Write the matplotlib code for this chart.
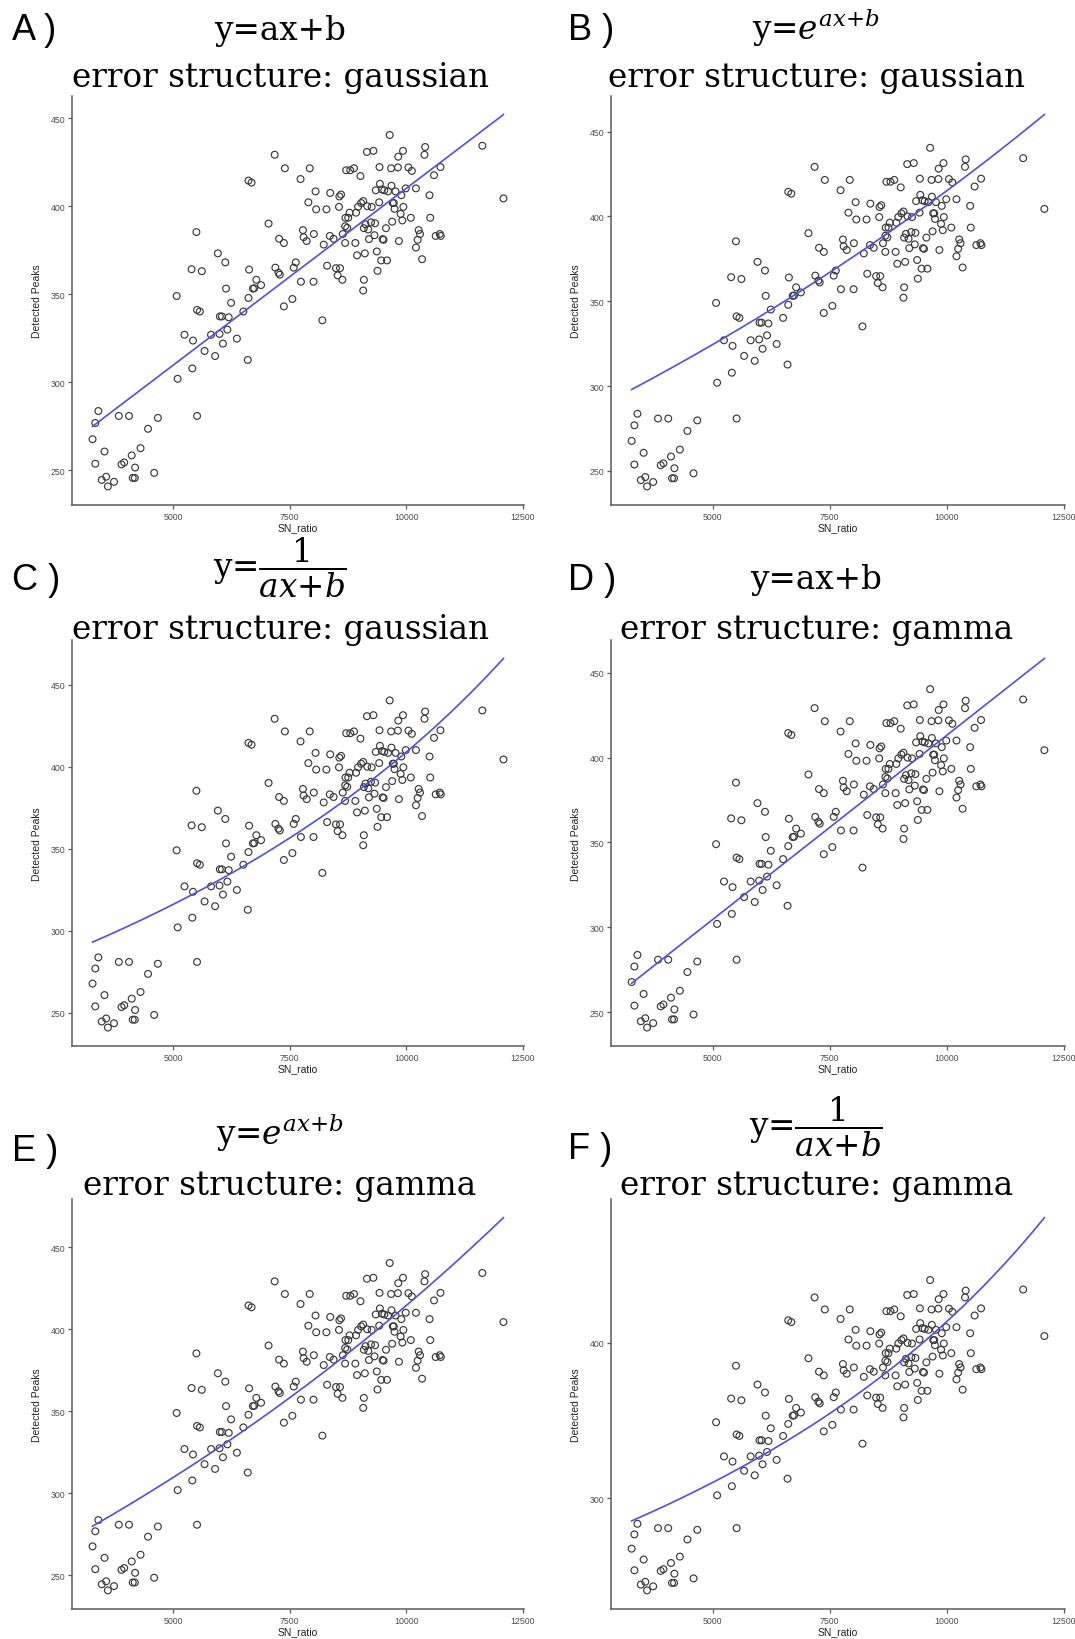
import numpy as np
import matplotlib
matplotlib.use("Agg")
import matplotlib.pyplot as plt

# ---------------- data ----------------
sn_ratio = [3269, 3328, 3393, 3328, 3525, 3466, 3561, 3598, 3729, 3832, 3890, 3948, 4051, 4109, 4182,
            4131, 4175, 4299, 4460, 4591, 4671, 5095, 5073, 5241, 5409, 5424, 5394, 5497, 5511, 5570,
            5511, 5613, 5672, 5811, 5898, 5957, 5993, 6000, 6044, 6066, 6117, 6132, 6161, 6190, 6241,
            6366, 6504, 6599, 6614, 6628, 6614, 6680, 6709, 6738, 6782, 6884, 7045, 7176, 7191, 7257,
            7286, 7271, 7373, 7373, 7395, 7556, 7585, 7629, 7731, 7739, 7782, 7797, 7863, 7899, 7928,
            8009, 8016, 8053, 8067, 8199, 8228, 8286, 8301, 8367, 8359, 8440, 8491, 8527, 8556, 8564,
            8600, 8578, 8629, 8637, 8688, 8688, 8695, 8732, 8754, 8783, 8710, 8797, 8878, 8907, 8922,
            8943, 8965, 9016, 9031, 9075, 9075, 9089, 9089, 9111, 9126, 9155, 9162, 9184, 9199, 9243,
            9257, 9294, 9316, 9330, 9345, 9367, 9382, 9418, 9425, 9433, 9462, 9477, 9491, 9513, 9528,
            9564, 9586, 9608, 9644, 9674, 9681, 9696, 9710, 9732, 9747, 9769, 9827, 9820, 9842, 9878,
            9893, 9929, 9915, 9937, 9988, 10046, 10097, 10119, 10207, 10207, 10243, 10265, 10294, 10338,
            10389, 10404, 10499, 10513, 10594, 10630, 10718, 10732, 10740, 11631, 12084]
detected_peaks = [267.7, 276.9, 283.7, 253.8, 260.7, 244.6, 246.4, 240.9, 243.5, 280.9, 253.4, 254.5,
                  280.9, 258.5, 251.6, 245.7, 245.7, 262.6, 273.6, 248.6, 279.8, 302.0, 349.0, 327.0,
                  307.9, 323.7, 364.2, 385.3, 341.1, 340.2, 280.9, 363.1, 317.8, 327.0, 314.9, 373.2,
                  327.5, 337.4, 337.4, 322.0, 368.1, 353.2, 329.9, 336.9, 345.1, 324.8, 340.2, 312.7,
                  347.9, 364.0, 414.5, 413.4, 353.2, 353.4, 358.2, 355.2, 390.1, 429.2, 365.1, 362.2,
                  361.1, 381.5, 379.1, 343.1, 421.5, 347.3, 365.1, 368.1, 415.4, 357.1, 386.4, 382.4,
                  380.2, 402.2, 421.5, 357.1, 384.2, 408.4, 398.2, 335.2, 378.2, 398.2, 366.2, 407.5,
                  383.1, 381.5, 364.8, 360.7, 399.6, 405.5, 406.6, 364.8, 358.2, 384.2, 379.1, 388.6,
                  393.4, 387.7, 393.4, 396.3, 420.4, 420.4, 421.5, 379.1, 396.3, 372.1, 399.6, 417.1,
                  401.8, 402.9, 352.1, 358.2, 387.5, 373.2, 389.7, 430.8, 400.0, 386.8, 381.3, 390.8,
                  399.6, 431.4, 383.5, 390.3, 409.0, 374.3, 363.3, 402.2, 422.2, 412.7, 369.2, 409.5,
                  381.3, 380.9, 409.0, 387.5, 369.2, 408.4, 440.4, 421.5, 411.6, 391.2, 401.8, 401.8,
                  398.5, 408.4, 428.1, 422.0, 380.2, 395.6, 406.2, 431.4, 391.9, 399.6, 410.1, 422.0,
                  393.4, 420.0, 410.1, 376.5, 380.9, 386.4, 384.2, 369.9, 429.2, 433.6, 406.2, 393.4,
                  417.6, 383.1, 384.2, 422.2, 383.1, 434.3, 404.4]

panel_labels = ["A )", "B )", "C )", "D )", "E )", "F )"]
formulas = ["y=ax+b", r"y=$e^{ax{+}b}$", r"y=$\dfrac{1}{ax{+}b}$",
            "y=ax+b", r"y=$e^{ax{+}b}$", r"y=$\dfrac{1}{ax{+}b}$"]
error_titles = ["error structure: gaussian", "error structure: gaussian", "error structure: gaussian",
                "error structure: gamma", "error structure: gamma", "error structure: gamma"]
links = ["identity", "log", "inverse", "identity", "log", "inverse"]
# fitted coefficients (a, b) of each model
coef_a = [0.020079, 4.9246e-5, -1.4374e-7, 0.021724, 5.828e-5, -1.612e-7]
coef_b = [209.36, 5.5361, 0.0038829, 195.98, 5.4443, 0.004029]
y_ticks = [[250, 300, 350, 400, 450]] * 5 + [[300, 400]]
x_ticks = [5000, 7500, 10000, 12500]
x_label = "SN_ratio"
y_label = "Detected Peaks"

# ---------------- layout ----------------
W, H = 1075, 1640
fig = plt.figure(figsize=(W / 100, H / 100), dpi=100)
plt.rcParams["mathtext.fontset"] = "dejavuserif"

col_x = [(72, 524), (611, 1065)]
row_y = [(97, 506), (641, 1047), (1200, 1610)]
label_xy = [(12, 30), (568, 30), (12, 580), (568, 580), (12, 1152), (568, 1150)]
formula_xy = [(280, 31), (816, 28), (280, 568), (816, 580), (280, 1133), (816, 1127)]
error_xy = [(280, 78), (817, 78), (280, 630), (817, 630), (280, 1186), (817, 1186)]

serif = "DejaVu Serif"
title_fs = 23.5
line_color = "#4F4FE6"
pt_color = "#3a3a3a"
axis_color = "#5a5a5a"

x = np.array(sn_ratio, dtype=float)
y = np.array(detected_peaks, dtype=float)


def fit_curve(link, a, b, xs):
    eta = a * xs + b
    if link == "identity":
        return eta
    if link == "log":
        return np.exp(eta)
    return 1.0 / eta


for i in range(6):
    r, c = divmod(i, 2)
    x0, x1 = col_x[c]
    y0, y1 = row_y[r]
    ax = fig.add_axes([x0 / W, 1 - y1 / H, (x1 - x0) / W, (y1 - y0) / H])
    xs = np.linspace(x.min(), x.max(), 300)
    ys = fit_curve(links[i], coef_a[i], coef_b[i], xs)
    ax.scatter(x, y, s=24, facecolors="none", edgecolors=pt_color, linewidths=0.85, zorder=2)
    ax.plot(xs, ys, color=line_color, lw=1.2, zorder=3)
    # ggplot-like 5% expansion
    xmin, xmax = x.min(), x.max()
    ymin, ymax = min(y.min(), ys.min()), max(y.max(), ys.max())
    dx, dy = (xmax - xmin) * 0.05, (ymax - ymin) * 0.05
    ax.set_xlim(xmin - dx, xmax + dx)
    ax.set_ylim(ymin - dy, ymax + dy)
    ax.set_xticks(x_ticks)
    ax.set_yticks(y_ticks[i])
    for s in ["top", "right"]:
        ax.spines[s].set_visible(False)
    for s in ["left", "bottom"]:
        ax.spines[s].set_color(axis_color)
        ax.spines[s].set_linewidth(1.1)
    ax.tick_params(axis="both", length=3, width=0.9, color=axis_color, labelsize=6.3,
                   labelcolor="#4d4d4d", pad=2)
    for lab in ax.get_xticklabels() + ax.get_yticklabels():
        lab.set_family("Liberation Sans")
    ax.set_xlabel(x_label, fontsize=7.5, family="Liberation Sans", color="#222222", labelpad=1)
    ax.set_ylabel(y_label, fontsize=7.5, family="Liberation Sans", color="#222222", labelpad=6)

    lx, ly = label_xy[i]
    fig.text(lx / W, 1 - ly / H, panel_labels[i], fontsize=26, family="Liberation Sans",
             ha="left", va="center")
    fx, fy = formula_xy[i]
    fig.text(fx / W, 1 - fy / H, formulas[i], fontsize=title_fs, family=serif,
             ha="center", va="center")
    ex, ey = error_xy[i]
    fig.text(ex / W, 1 - ey / H, error_titles[i], fontsize=title_fs, family=serif,
             ha="center", va="center")

fig.savefig("out.png", dpi=100, facecolor="white")
